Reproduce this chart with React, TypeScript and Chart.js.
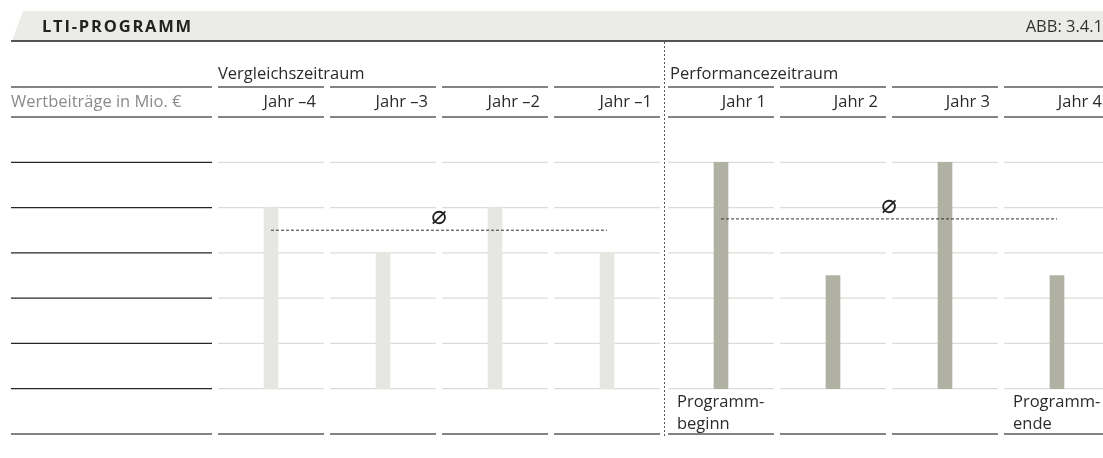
import { useEffect, useRef } from "react";
import { Chart, registerables } from "chart.js";

Chart.register(...registerables);

// ---- data ----
const categories = ["Jahr –4", "Jahr –3", "Jahr –2", "Jahr –1", "Jahr 1", "Jahr 2", "Jahr 3", "Jahr 4"];
const comparisonValues = [4, 3, 4, 3];
const performanceValues = [5, 2.5, 5, 2.5];
const averageValues = [3.5, 3.75];
const periodLabels = ["Vergleichszeitraum", "Performancezeitraum"];
const footLabels: (string[] | null)[] = [null, null, null, null, ["Programm-", "beginn"], null, null, ["Programm-", "ende"]];
const gridValues = [0, 1, 2, 3, 4, 5];
const title = "LTI-PROGRAMM";
const figureId = "ABB: 3.4.1";
const unitLabel = "Wertbeiträge in Mio. €";

// ---- layout / style ----
const FONT = "'Open Sans', sans-serif";
const COL_FRACTION = 106 / 112;
const SECTION_GAP = 2 / 112;
const X_MAX = 885 / 112;
const Y_MIN = -1;
const Y_MAX = 6;
const LEFT_COL = [11, 212];
const HEADER_LINE_Y = 87;
const COLOR_TEXT = "#2b2b2b";
const COLOR_DARK_LINE = "#5a5a5a";
const COLOR_GRID = "#dcdcd6";
const COLOR_BAR_LIGHT = "#e6e6e2";
const COLOR_BAR_DARK = "#b0b0a3";

const colLeft = (i: number) => i + (i >= 4 ? SECTION_GAP : 0);
const colRight = (i: number) => colLeft(i) + COL_FRACTION;
const colCenter = (i: number) => colLeft(i) + COL_FRACTION / 2;

const barValues = [...comparisonValues, ...performanceValues];

const decorPlugin = {
  id: "decor",
  beforeDatasetsDraw(chart: any) {
    const { ctx, scales, width } = chart;
    const x = scales.x;
    const y = scales.y;
    ctx.save();

    // title band
    ctx.fillStyle = "#ebebe7";
    ctx.beginPath();
    ctx.moveTo(12, 41);
    ctx.lineTo(23, 11);
    ctx.lineTo(width, 11);
    ctx.lineTo(width, 41);
    ctx.closePath();
    ctx.fill();

    ctx.fillStyle = "#222";
    ctx.font = `bold 16.5px ${FONT}`;
    ctx.textBaseline = "alphabetic";
    ctx.textAlign = "left";
    (ctx as any).letterSpacing = "1.8px";
    ctx.fillText(title, 42, 32);
    (ctx as any).letterSpacing = "0px";
    ctx.font = `16.5px ${FONT}`;
    ctx.fillStyle = "#333";
    ctx.textAlign = "right";
    ctx.fillText(figureId, width, 32);

    ctx.strokeStyle = "#1e1e1e";
    ctx.lineWidth = 1.5;
    ctx.beginPath();
    ctx.moveTo(LEFT_COL[0], 41);
    ctx.lineTo(width, 41);
    ctx.stroke();

    const hline = (x0: number, x1: number, yy: number, color: string, lw: number) => {
      ctx.strokeStyle = color;
      ctx.lineWidth = lw;
      ctx.beginPath();
      ctx.moveTo(x0, yy);
      ctx.lineTo(x1, yy);
      ctx.stroke();
    };

    const topY = y.getPixelForValue(Y_MAX);
    const botY = y.getPixelForValue(Y_MIN);

    // left column lines
    hline(LEFT_COL[0], LEFT_COL[1], HEADER_LINE_Y, COLOR_DARK_LINE, 1.5);
    hline(LEFT_COL[0], LEFT_COL[1], topY, COLOR_DARK_LINE, 1.5);
    gridValues.forEach((v) => hline(LEFT_COL[0], LEFT_COL[1], y.getPixelForValue(v), "#262626", 1.2));
    hline(LEFT_COL[0], LEFT_COL[1], botY, COLOR_DARK_LINE, 1.5);

    // column lines
    categories.forEach((_, i) => {
      const l = x.getPixelForValue(colLeft(i));
      const r = Math.min(x.getPixelForValue(colRight(i)), width);
      hline(l, r, HEADER_LINE_Y, COLOR_DARK_LINE, 1.5);
      hline(l, r, topY, COLOR_DARK_LINE, 1.5);
      gridValues.forEach((v) => hline(l, r, y.getPixelForValue(v), COLOR_GRID, 1.2));
      hline(l, r, botY, COLOR_DARK_LINE, 1.5);
    });

    // texts
    ctx.font = `16.5px ${FONT}`;
    ctx.textBaseline = "alphabetic";
    ctx.fillStyle = "#8a8a8a";
    ctx.textAlign = "left";
    ctx.fillText(unitLabel, LEFT_COL[0], 107);

    ctx.fillStyle = COLOR_TEXT;
    ctx.fillText(periodLabels[0], x.getPixelForValue(colLeft(0)), 79);
    ctx.fillText(periodLabels[1], x.getPixelForValue(colLeft(4)) + 2, 79);

    ctx.textAlign = "right";
    categories.forEach((c, i) => {
      const r = x.getPixelForValue(colRight(i));
      ctx.fillText(c, Math.min(r - 8, width), 107);
    });

    ctx.textAlign = "left";
    footLabels.forEach((lines, i) => {
      if (!lines) return;
      const l = x.getPixelForValue(colLeft(i)) + 9;
      lines.forEach((t, k) => ctx.fillText(t, l, y.getPixelForValue(0) + 18 + k * 22));
    });

    ctx.restore();
  },
  afterDatasetsDraw(chart: any) {
    const { ctx, scales } = chart;
    const x = scales.x;
    const y = scales.y;
    ctx.save();
    // divider
    const dx = Math.round((x.getPixelForValue(colRight(3)) + x.getPixelForValue(colLeft(4))) / 2) + 0.5;
    ctx.strokeStyle = "#555";
    ctx.lineWidth = 1;
    ctx.setLineDash([2, 2]);
    ctx.beginPath();
    ctx.moveTo(dx, 42);
    ctx.lineTo(dx, y.getPixelForValue(Y_MIN) + 3);
    ctx.stroke();
    ctx.setLineDash([]);

    // average symbols
    ctx.fillStyle = "#222";
    ctx.font = "26px 'DejaVu Sans', sans-serif";
    ctx.textAlign = "center";
    ctx.textBaseline = "middle";
    const mid0 = x.getPixelForValue((colCenter(0) + colCenter(3)) / 2);
    const mid1 = x.getPixelForValue((colCenter(4) + colCenter(7)) / 2);
    ctx.fillText("⌀", mid0, y.getPixelForValue(averageValues[0]) - 13);
    ctx.fillText("⌀", mid1, y.getPixelForValue(averageValues[1]) - 13);
    ctx.restore();
  },
};

export default function App() {
  const ref = useRef<HTMLCanvasElement>(null);
  useEffect(() => {
    document.body.style.margin = "0";
    document.body.style.overflow = "hidden";
    const canvas = ref.current!;
    const chart = new Chart(canvas, {
      type: "bar",
      data: {
        datasets: [
          {
            type: "line",
            data: [
              { x: colCenter(0), y: averageValues[0] },
              { x: colCenter(3), y: averageValues[0] },
            ],
            borderColor: "#333",
            borderWidth: 1,
            borderDash: [3, 2],
            pointRadius: 0,
            order: 0,
          } as any,
          {
            type: "line",
            data: [
              { x: colCenter(4), y: averageValues[1] },
              { x: colCenter(7), y: averageValues[1] },
            ],
            borderColor: "#333",
            borderWidth: 1,
            borderDash: [3, 2],
            pointRadius: 0,
            order: 0,
          } as any,
          {
            type: "bar",
            data: barValues.map((v, i) => ({ x: colCenter(i), y: v })),
            backgroundColor: barValues.map((_, i) => (i < comparisonValues.length ? COLOR_BAR_LIGHT : COLOR_BAR_DARK)),
            barThickness: 14,
            borderWidth: 0,
            order: 1,
          } as any,
        ],
      },
      options: {
        animation: false,
        responsive: false,
        maintainAspectRatio: false,
        layout: { padding: { left: 218, right: 0, top: 117, bottom: 24 } },
        plugins: { legend: { display: false }, tooltip: { enabled: false } },
        scales: {
          x: { type: "linear", min: 0, max: X_MAX, offset: false, display: false },
          y: { type: "linear", min: Y_MIN, max: Y_MAX, display: false },
        },
      },
      plugins: [decorPlugin],
    });
    return () => chart.destroy();
  }, []);
  return (
    <div style={{ width: 1103, height: 458 }}>
      <canvas ref={ref} width={1103} height={458} style={{ display: "block" }} />
    </div>
  );
}
